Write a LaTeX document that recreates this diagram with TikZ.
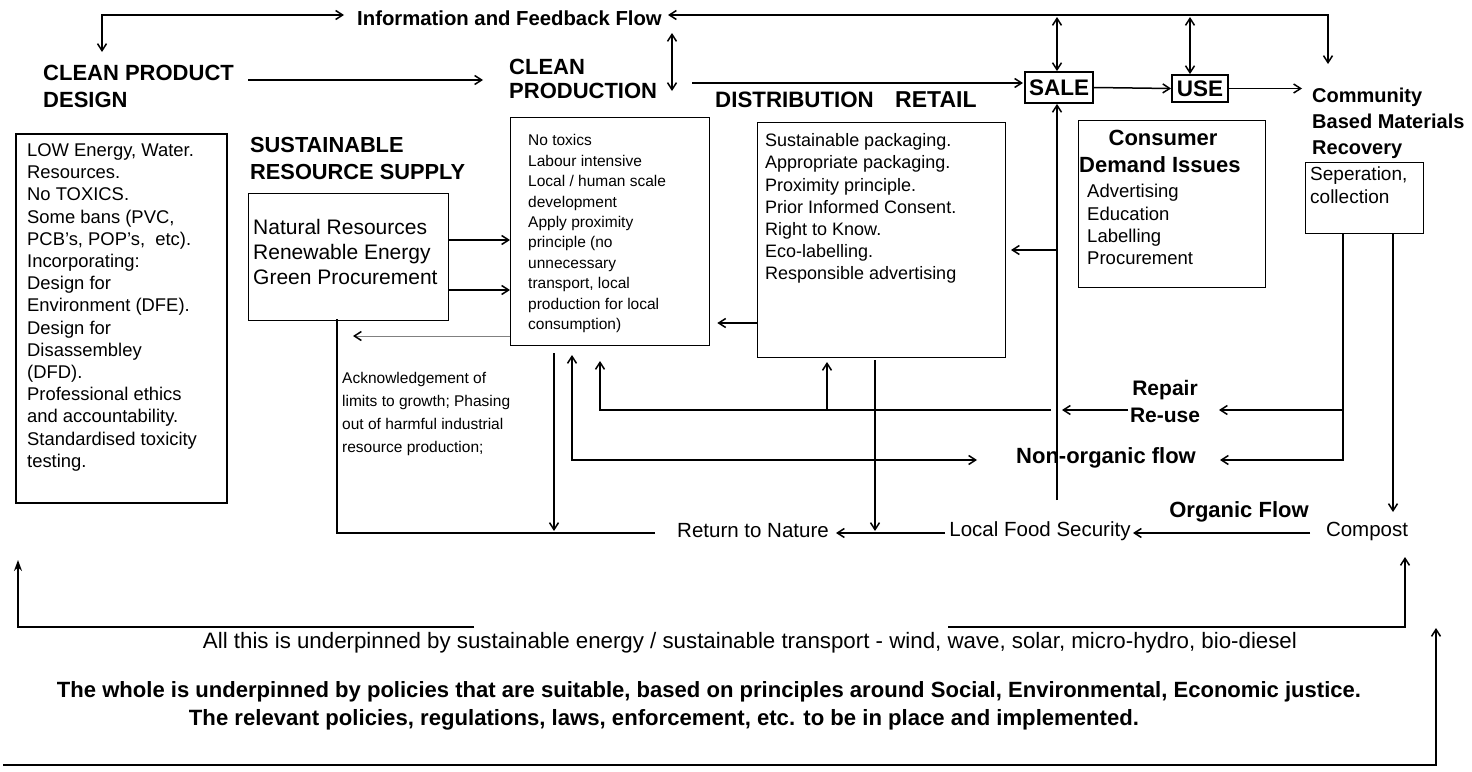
\documentclass[tikz,border=0pt]{standalone}
\usepackage{fontspec}
\setmainfont{Liberation Sans}
\usepackage{graphicx}
\usetikzlibrary{arrows.meta}
\newcommand\myfs[2]{\fontsize{#1}{#2}\selectfont}
\begin{document}
\begin{tikzpicture}[x=1pt,y=-1pt,
  box/.style={draw, line width=1.3pt, inner sep=0pt, anchor=north west},
  txt/.style={inner sep=0pt, align=left, anchor=north west},
  hd/.style={inner sep=0pt, align=left, font=\bfseries\myfs{22}{27}},
  con/.style={line width=1.5pt},
  arr/.style={con, -{Straight Barb[length=7pt,width=9pt]}},
  dbl/.style={con, {Straight Barb[length=7pt,width=9pt]}-{Straight Barb[length=7pt,width=9pt]}},
  tagbox/.style={draw, line width=1.8pt, inner sep=0pt, font=\bfseries\myfs{22.5}{26}}
]
\useasboundingbox (0,0) rectangle (1472,771);

% ---------- labels ----------
\node[hd, anchor=west, font=\bfseries\myfs{20.3}{24}] (info) at (357,18) {Information and Feedback Flow};
\node[hd, anchor=north west] (design) at (43,65) {CLEAN PRODUCT\\DESIGN};
\node[hd, anchor=north west, font=\bfseries\myfs{22}{24}] (prodlbl) at (509,59) {CLEAN\\PRODUCTION};
\node[hd, anchor=west, font=\bfseries\myfs{22.3}{24}] (distlbl) at (715,100) {DISTRIBUTION};
\node[hd, anchor=west, font=\bfseries\myfs{23}{24}] (retail) at (895,100) {RETAIL};
\node[hd, anchor=north west, font=\bfseries\myfs{21.8}{27}] (reslbl) at (250,137) {SUSTAINABLE\\RESOURCE SUPPLY};
\node[hd, anchor=north west, font=\bfseries\myfs{20}{26}] (comm) at (1312,88) {Community\\Based Materials\\Recovery};
\node[tagbox, minimum width=68, minimum height=31] (sale) at (1059,87.5) {SALE};
\node[tagbox, minimum width=56, minimum height=27] (use) at (1200,88.5) {USE};

% ---------- boxes ----------
\node[box, line width=2.2pt, minimum width=211, minimum height=369] (leftbox) at (15,133) {};
\node[txt, font=\myfs{18.4}{22.2}] (lefttxt) at (27,143.5) {LOW Energy, Water.\\Resources.\\No TOXICS.\\Some bans (PVC,\\PCB's, POP's,\ \ etc).\\Incorporating:\\Design for\\Environment (DFE).\\Design for\\Disassembley\\(DFD).\\Professional ethics\\and accountability.\\Standardised toxicity\\testing.};

\node[box, minimum width=200, minimum height=127] (resbox) at (248,193) {};
\node[txt, font=\myfs{21}{25}] (restxt) at (253,219.5) {Natural Resources\\Renewable Energy\\Green Procurement};

\node[box, minimum width=199, minimum height=228] (prodbox) at (510,117) {};
\node[txt, font=\myfs{15.5}{20.4}] (prodtxt) at (528,134.4) {No toxics\\Labour intensive\\Local / human scale\\development\\Apply proximity\\principle (no\\unnecessary\\transport, local\\production for local\\consumption)};

\node[box, minimum width=248, minimum height=235] (distbox) at (757,122) {};
\node[txt, font=\myfs{18}{22.2}] (disttxt) at (765,133.5) {Sustainable packaging.\\Appropriate packaging.\\Proximity principle.\\Prior Informed Consent.\\Right to Know.\\Eco-labelling.\\Responsible advertising};

\node[box, minimum width=187, minimum height=167] (consbox) at (1078,120) {};
\node[hd] (constitle) at (1163,138) {Consumer};
\node[hd, anchor=west] (demand) at (1079,165) {Demand Issues};
\node[txt, font=\myfs{18.5}{22.3}] (constxt) at (1087,184.3) {Advertising\\Education\\Labelling\\Procurement};

\node[box, minimum width=118, minimum height=71] (recbox) at (1305,162) {};
\node[txt, font=\myfs{19}{23}] (rectxt) at (1310,166.2) {Seperation,\\collection};

\node[txt, font=\myfs{15.5}{23}] (ack) at (342,372.5) {Acknowledgement of\\limits to growth; Phasing\\out of harmful industrial\\resource production;};

\node[hd, align=center, font=\bfseries\myfs{21}{27}] (repair) at (1165,401) {Repair\\Re-use};
\node[hd] (nonorg) at (1106,458) {Non-organic flow};
\node[hd] (organic) at (1239,512) {Organic Flow};
\node[inner sep=0pt, font=\myfs{20.5}{24}] (compost) at (1367,531) {Compost};
\node[inner sep=0pt, font=\myfs{20.5}{24}] (lfs) at (1040,531) {Local Food Security};
\node[inner sep=0pt, font=\myfs{20.5}{24}] (ret) at (753,531) {Return to Nature};

\node[inner sep=0pt] (under1) at (750,643) {\resizebox{1094pt}{!}{\myfs{19}{23}All this is underpinned by sustainable energy / sustainable transport - wind, wave, solar, micro-hydro, bio-diesel}};
\node[inner sep=0pt] (under2) at (709,692) {\resizebox{1304pt}{!}{\bfseries\myfs{19}{23}The whole is underpinned by policies that are suitable, based on principles around Social, Environmental, Economic justice.}};
\node[inner sep=0pt] (under3) at (664,720) {\resizebox{950pt}{!}{\bfseries\myfs{19}{23}The relevant policies, regulations, laws, enforcement, etc. to be in place and implemented.}};

% ---------- coordinates ----------
\coordinate (t1) at (102,15);
\coordinate (t1d) at (102,52);
\coordinate (t1r) at (344,15);
\coordinate (t2l) at (668,15);
\coordinate (t2r) at (1328,15);
\coordinate (t2d) at (1328,64);
\coordinate (v1a) at (672,33);
\coordinate (v1b) at (672,91);
\coordinate (v2a) at (1057,17);
\coordinate (v3a) at (1190,17);
\coordinate (d1) at (248,80);
\coordinate (d2) at (483,80);
\coordinate (p1) at (692,83);
\coordinate (p2) at (1023,83);
\coordinate (u2) at (1302,88.5);
\coordinate (sv) at (1057,500);
\coordinate (svb) at (1057,250);
\coordinate (svt) at (1011,250);
\coordinate (r1) at (1343,410);
\coordinate (r2) at (1219,410);
\coordinate (r3) at (1128,410);
\coordinate (r4) at (1062,410);
\coordinate (r5) at (1051,410);
\coordinate (r6) at (600,410);
\coordinate (r7) at (600,361);
\coordinate (r8) at (827,410);
\coordinate (r9) at (827,362);
\coordinate (n1) at (1343,233);
\coordinate (n2) at (1343,460);
\coordinate (n3) at (1220,460);
\coordinate (n4) at (977,460);
\coordinate (n5) at (572,460);
\coordinate (n6) at (572,355);
\coordinate (pd1) at (554,353);
\coordinate (pd2) at (554,531);
\coordinate (dd1) at (875,360);
\coordinate (dd2) at (875,531);
\coordinate (c1) at (1393,233);
\coordinate (c2) at (1393,512);
\coordinate (o1) at (1310,533);
\coordinate (o2) at (1133,533);
\coordinate (o3) at (945,533);
\coordinate (o4) at (836,533);
\coordinate (o5) at (655,533);
\coordinate (o6) at (337,533);
\coordinate (o7) at (337,319);
\coordinate (th1) at (353,336);
\coordinate (b1) at (474,627);
\coordinate (b2) at (18,627);
\coordinate (b3) at (18,560);
\coordinate (b4) at (948,627);
\coordinate (b5) at (1405,627);
\coordinate (b6) at (1405,557);
\coordinate (f1) at (3,765);
\coordinate (f2) at (1436,765);
\coordinate (f3) at (1436,628);

% ---------- connectors ----------
\draw[dbl] (t1d) -- (t1) -- (t1r);
\draw[dbl] (t2l) -- (t2r) -- (t2d);
\draw[dbl] (v1a) -- (v1b);
\draw[dbl] (v2a) -- (v2a |- sale.north);
\draw[dbl] (v3a) -- (v3a |- use.north);
\draw[arr] (d1) -- (d2);
\draw[arr] (p1) -- (p2);
\draw[arr] (sale.east) -- (use.west);
\draw[arr] (use.east) -- (u2);
\draw[arr] (resbox.east |- 0,240) -- (prodbox.west |- 0,240);
\draw[arr] (resbox.east |- 0,290) -- (prodbox.west |- 0,290);
\draw[arr, shorten >=7pt] (distbox.west |- 0,323) -- (prodbox.east |- 0,323);
\draw[line width=0.8pt, gray, -{Straight Barb[length=7pt,width=9pt,color=black,line width=1.5pt]}] (prodbox.west |- th1) -- (th1);
\draw[arr] (sv) -- (sv |- sale.south);
\draw[arr] (svb) -- (svt);
\draw[arr] (r1) -- (r2);
\draw[arr] (r3) -- (r4);
\draw[arr] (r5) -- (r6) -- (r7);
\draw[arr] (r8) -- (r9);
\draw[arr] (n1) -- (n2) -- (n3);
\draw[dbl] (n4) -- (n5) -- (n6);
\draw[arr] (pd1) -- (pd2);
\draw[arr] (dd1) -- (dd2);
\draw[arr] (c1) -- (c2);
\draw[arr] (o1) -- (o2);
\draw[arr] (o3) -- (o4);
\draw[con] (o5) -- (o6) -- (o7);
\draw[con, -{Stealth[length=11pt,width=8pt]}] (b1) -- (b2) -- (b3);
\draw[arr] (b4) -- (b5) -- (b6);
\draw[arr] (f1) -- (f2) -- (f3);
\end{tikzpicture}
\end{document}
